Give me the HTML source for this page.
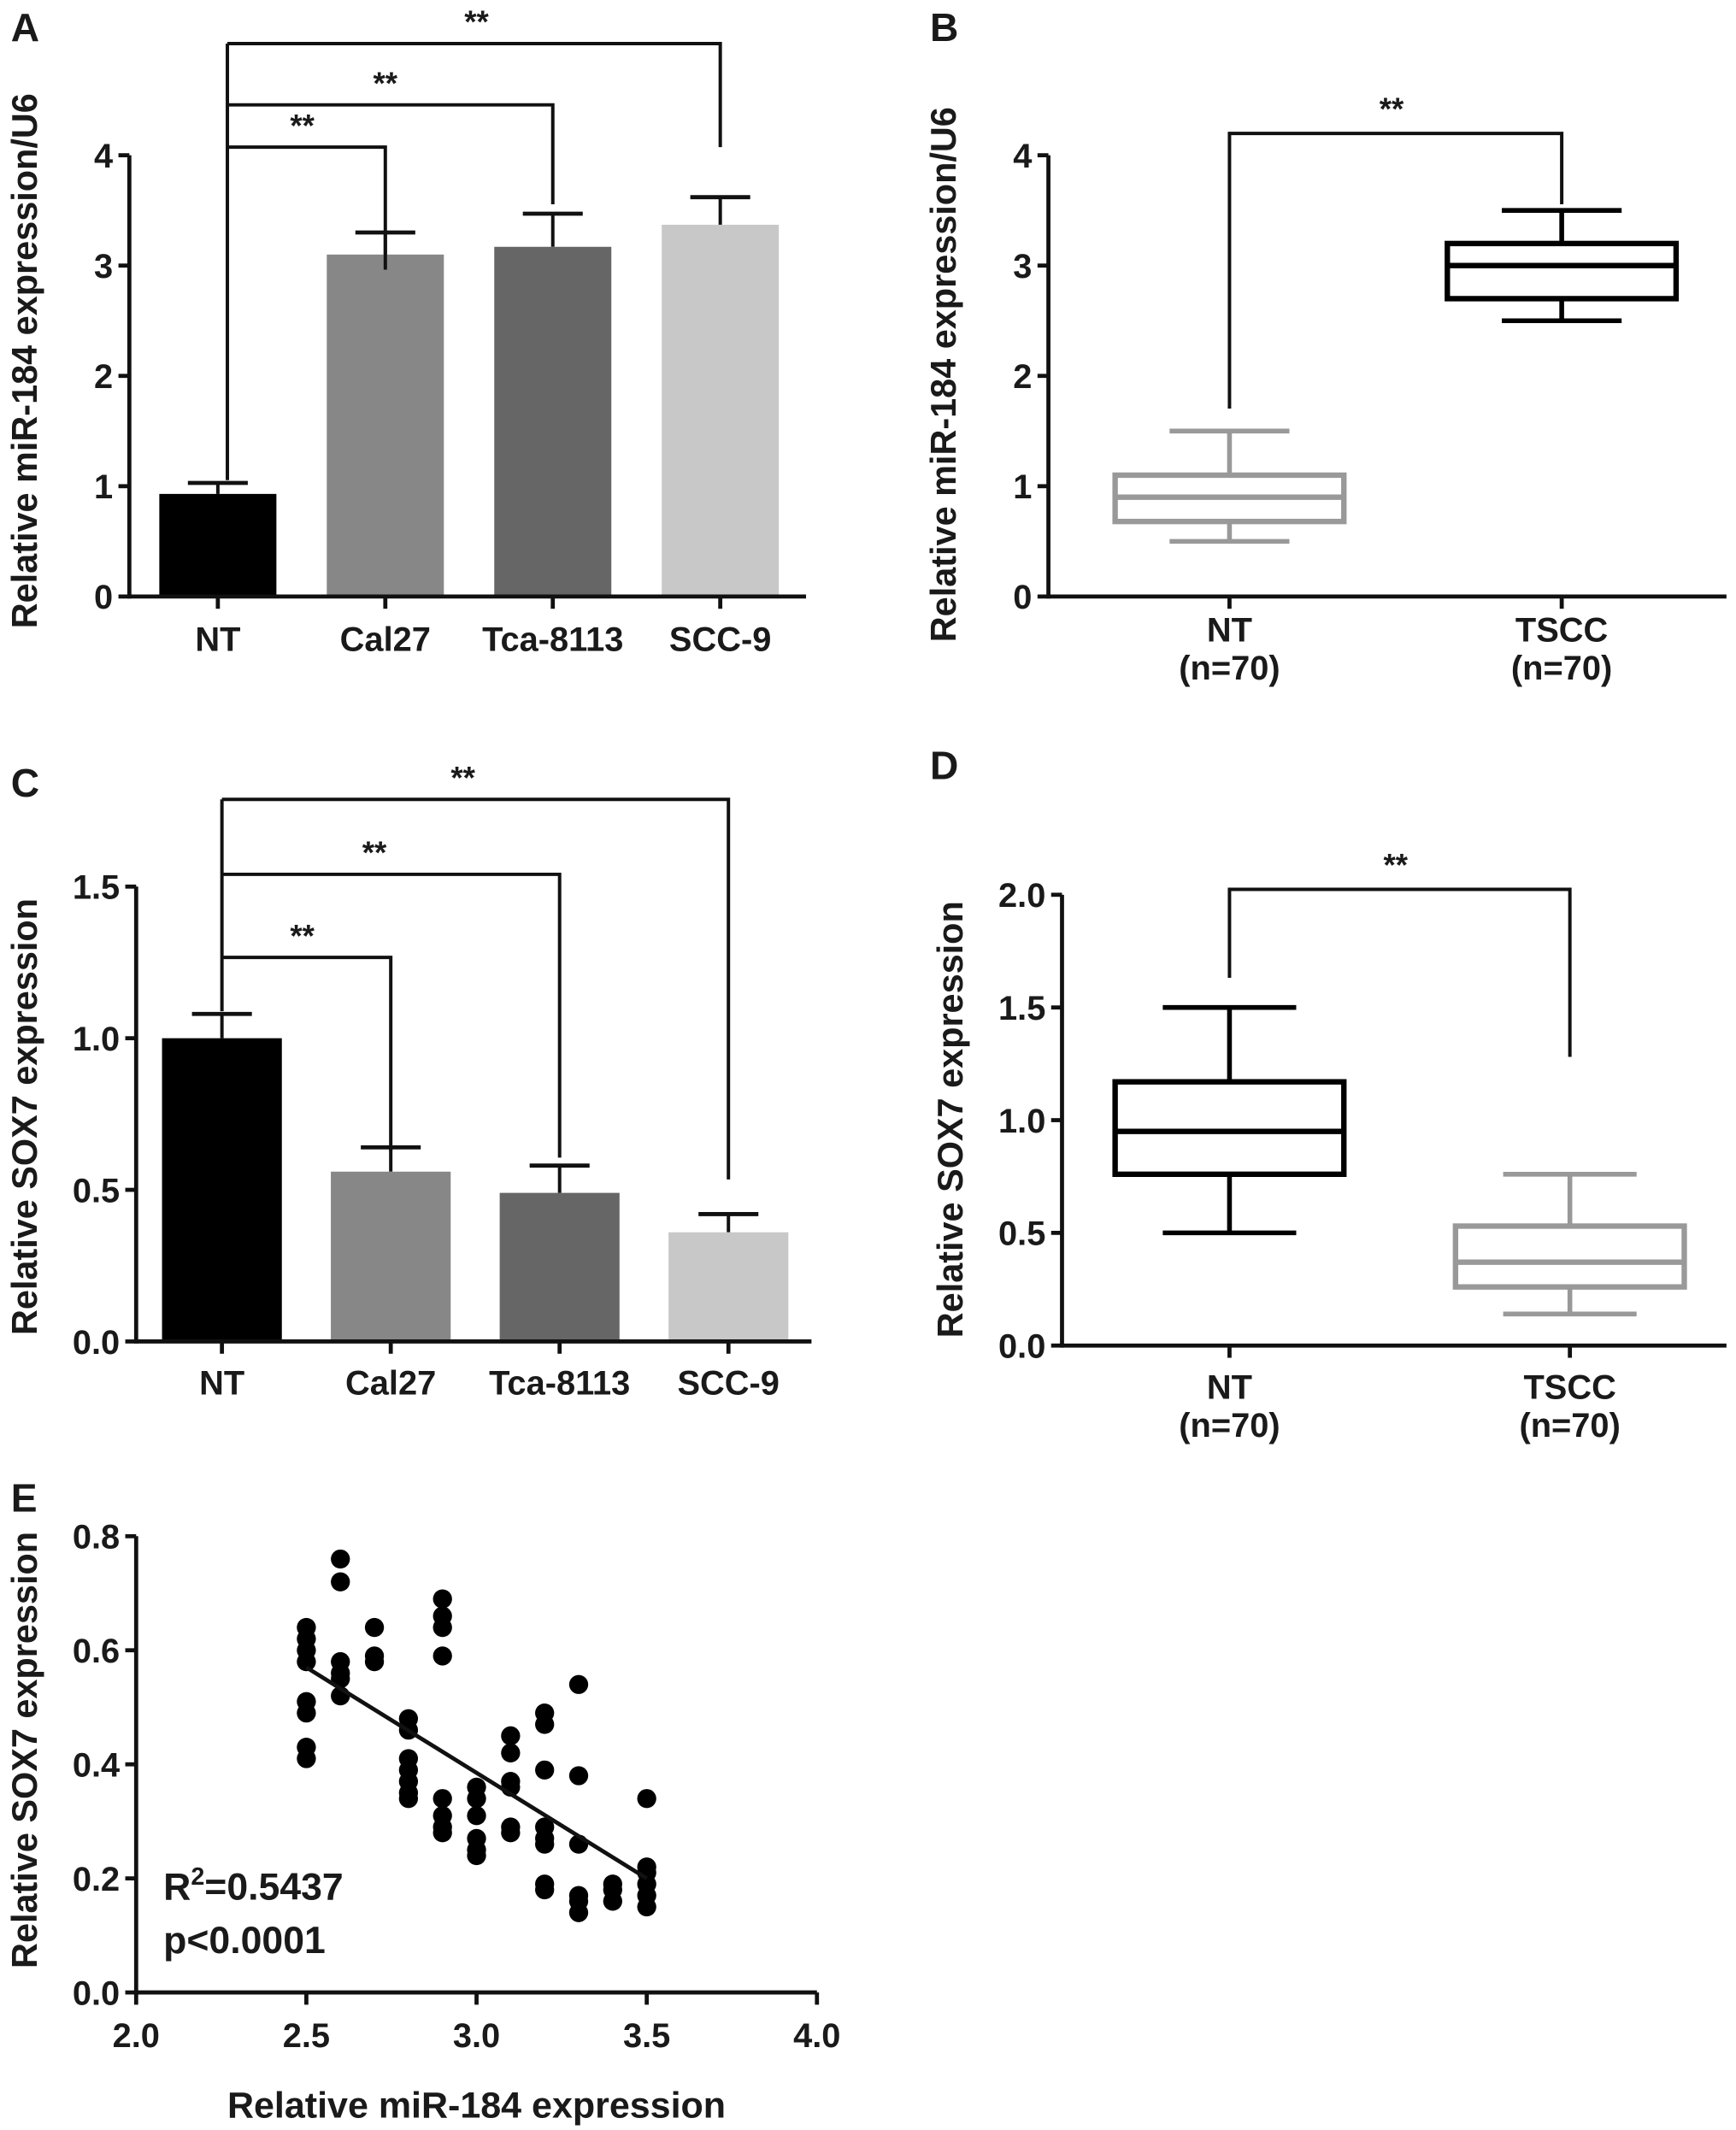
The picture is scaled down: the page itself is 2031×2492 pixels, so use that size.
<!DOCTYPE html>
<html><head><meta charset="utf-8"><style>
html,body{margin:0;padding:0;background:#fff;}
svg{display:block;font-family:"Liberation Sans",Arial,sans-serif;}
text{font-weight:bold;fill:#1a1a1a;}
</style></head><body>
<svg id="fig" width="2031" height="2492" viewBox="0 0 1275 1564" preserveAspectRatio="none" xmlns="http://www.w3.org/2000/svg">
<rect width="1275" height="1564" fill="#fff"/>
</svg>
<script>
// Panel A data
const aCats = ["NT","Cal27","Tca-8113","SCC-9"];
const aVals = [0.93, 3.10, 3.17, 3.37];
const aErr = [1.03, 3.30, 3.47, 3.62];
const aTicks = [0,1,2,3,4];
// Panel B data (min, q1, median, q3, max)
const bCats = ["NT","TSCC"];
const bStats = [[0.5,0.68,0.9,1.1,1.5],[2.5,2.7,3.0,3.2,3.5]];
const bTicks = [0,1,2,3,4];
// Panel C data
const cCats = ["NT","Cal27","Tca-8113","SCC-9"];
const cVals = [1.0, 0.56, 0.49, 0.36];
const cErr = [1.08, 0.64, 0.58, 0.42];
const cTicks = ["0.0","0.5","1.0","1.5"];
// Panel D data
const dCats = ["NT","TSCC"];
const dStats = [[0.5,0.76,0.95,1.17,1.5],[0.14,0.26,0.37,0.53,0.76]];
const dTicks = ["0.0","0.5","1.0","1.5","2.0"];
// Panel E data
const eX = [2.5,2.5,2.5,2.5,2.5,2.5,2.5,2.5, 2.6,2.6,2.6,2.6,2.6,2.6, 2.7,2.7,2.7, 2.8,2.8,2.8,2.8,2.8,2.8,2.8, 2.9,2.9,2.9,2.9,2.9,2.9,2.9,2.9, 3.0,3.0,3.0,3.0,3.0,3.0, 3.1,3.1,3.1,3.1,3.1,3.1, 3.2,3.2,3.2,3.2,3.2,3.2,3.2,3.2, 3.3,3.3,3.3,3.3,3.3,3.3, 3.4,3.4,3.4, 3.5,3.5,3.5,3.5,3.5,3.5];
const eY = [0.64,0.62,0.60,0.58,0.51,0.49,0.43,0.41, 0.76,0.72,0.58,0.56,0.55,0.52, 0.64,0.59,0.58, 0.48,0.46,0.41,0.39,0.37,0.35,0.34, 0.69,0.66,0.64,0.59,0.34,0.31,0.29,0.28, 0.36,0.34,0.31,0.27,0.25,0.24, 0.45,0.42,0.37,0.36,0.29,0.28, 0.49,0.47,0.39,0.29,0.27,0.26,0.19,0.18, 0.54,0.38,0.26,0.17,0.16,0.14, 0.19,0.18,0.16, 0.34,0.22,0.21,0.19,0.17,0.15];
const eFit = [[2.5,0.57],[3.5,0.2]];
const eXTicks = ["2.0","2.5","3.0","3.5","4.0"];
const eYTicks = ["0.0","0.2","0.4","0.6","0.8"];

const svg = document.getElementById('fig');
const NS = "http://www.w3.org/2000/svg";
function mk(tag, attrs, parent){const e=document.createElementNS(NS,tag);for(const k in attrs)e.setAttribute(k,attrs[k]);(parent||svg).appendChild(e);return e;}
function line(x1,y1,x2,y2,g,w,c){return mk('line',{x1,y1,x2,y2,stroke:c||'#111','stroke-width':w||3},g);}
function txt(s,x,y,size,g,anchor,extra){const t=mk('text',Object.assign({x,y,'font-size':size,'text-anchor':anchor||'middle'},extra||{}),g);t.textContent=s;return t;}
function group(name){const g=mk('g',{});return g;}

function yAxis(g,x,yTop,yBot,ticks,yOf,titleS,tx,ty){
  const ax=line(x,yTop,x,yBot+1.5,g);
  
  ticks.forEach(t=>{const y=yOf(parseFloat(t));line(x-8,y,x,y,g);
    const l=txt(String(t),x-12,y+9,25,g,'end');});
  const tt=txt(titleS,tx,ty,26,g,'middle',{transform:`rotate(-90 ${tx} ${ty})`});
  
}
function bracket(g,x1,y1,x2,y2,yTop,starX){
  mk('polyline',{points:`${x1},${y1} ${x1},${yTop} ${x2},${yTop} ${x2},${y2}`,fill:'none',stroke:'#111','stroke-width':2.5},g);
  const s=txt('**',starX,yTop-8,23,g,'middle',{'font-weight':'normal'});
  
}
function panelLabel(s,x,y){const t=txt(s,x,y,29,svg,'start');}

// ---------- Panel A ----------
{const g=group('panel-a-bar-chart');
 const y0=438,y4=114,xL=95,xR=592;const yOf=v=>y0-(y0-y4)*v/4;
 const cx=[160,283,406,529],bw=86,cols=['#000','#878787','#666','#c8c8c8'];
 aCats.forEach((c,i)=>{
  line(cx[i],yOf(aVals[i]),cx[i],yOf(aErr[i]),g,2.5);
  line(cx[i]-22,yOf(aErr[i]),cx[i]+22,yOf(aErr[i]),g,3);
  const r=mk('rect',{x:cx[i]-bw/2,y:yOf(aVals[i]),width:bw,height:y0-yOf(aVals[i]),fill:cols[i]},g);
  
  line(cx[i],y0,cx[i],y0+9,g);
  const l=txt(c,cx[i],478,25,g);
 });
 line(xL,y0,xR,y0,g);
 yAxis(g,xL,y4,y0,aTicks,yOf,'Relative miR-184 expression/U6',27,265);
 const bx=167;
 line(bx,yOf(aErr[0])-2,bx,32,g,2.5);
 bracket(g,bx,32,cx[3],108,32,350);
 bracket(g,bx,77,cx[2],150,77,283);
 bracket(g,bx,108,cx[1],198,108,222);
 panelLabel('A',8,30);
}
function boxes(g,cats,stats,cx,yOf,cols,bw,cw,labY){
 cats.forEach((c,i)=>{const s=stats[i],col=cols[i];
  const bg=mk('g',{},g);
  line(cx[i],yOf(s[0]),cx[i],yOf(s[1]),bg,3.5,col);line(cx[i],yOf(s[3]),cx[i],yOf(s[4]),bg,3.5,col);
  line(cx[i]-cw/2,yOf(s[0]),cx[i]+cw/2,yOf(s[0]),bg,3.5,col);line(cx[i]-cw/2,yOf(s[4]),cx[i]+cw/2,yOf(s[4]),bg,3.5,col);
  mk('rect',{x:cx[i]-bw/2,y:yOf(s[3]),width:bw,height:yOf(s[1])-yOf(s[3]),fill:'none',stroke:col,'stroke-width':4},bg);
  line(cx[i]-bw/2,yOf(s[2]),cx[i]+bw/2,yOf(s[2]),bg,4,col);
  const l=txt(c,cx[i],labY,25,g);
  txt('(n=70)',cx[i],labY+28,25,g);
 });
}
// ---------- Panel B ----------
{const g=group('panel-b-box-plot');
 const y0=438,y4=114,xL=770,xR=1268;const yOf=v=>y0-(y0-y4)*v/4;
 const cx=[903,1147];
 boxes(g,bCats,bStats,cx,yOf,['#999','#000'],168,88,471);
 cx.forEach(x=>line(x,y0,x,y0+9,g));
 line(xL,y0,xR,y0,g);
 yAxis(g,xL,y4,y0,bTicks,yOf,'Relative miR-184 expression/U6',702,275);
 mk('polyline',{points:`${cx[0]},300 ${cx[0]},98 ${cx[1]},98 ${cx[1]},150`,fill:'none',stroke:'#111','stroke-width':2.5},g);
 txt('**',1022,88,23,g,'middle',{'font-weight':'normal'});
 panelLabel('B',683,30);
}
// ---------- Panel C ----------
{const g=group('panel-c-bar-chart');
 const y0=985,yT=651,xL=100,xR=596;const yOf=v=>y0-(y0-yT)*v/1.5;
 const cx=[163,287,411,535],bw=88,cols=['#000','#878787','#666','#c8c8c8'];
 cCats.forEach((c,i)=>{
  line(cx[i],yOf(cVals[i]),cx[i],yOf(cErr[i]),g,2.5);
  line(cx[i]-22,yOf(cErr[i]),cx[i]+22,yOf(cErr[i]),g,3);
  const r=mk('rect',{x:cx[i]-bw/2,y:yOf(cVals[i]),width:bw,height:y0-yOf(cVals[i]),fill:cols[i]},g);
  
  line(cx[i],y0,cx[i],y0+9,g);
  const l=txt(c,cx[i],1024,25,g);
 });
 line(xL,y0,xR,y0,g);
 yAxis(g,xL,yT,y0,cTicks,yOf,'Relative SOX7 expression',27,820);
 const bx=163;
 line(bx,yOf(cErr[0])-2,bx,587,g,2.5);
 bracket(g,bx,587,cx[3],866,587,340);
 bracket(g,bx,642,cx[2],850,642,275);
 bracket(g,bx,703,cx[1],845,703,222);
 panelLabel('C',8,585);
}
// ---------- Panel D ----------
{const g=group('panel-d-box-plot');
 const y0=988,yT=657,xL=780,xR=1268;const yOf=v=>y0-(y0-yT)*v/2;
 const cx=[903,1153];
 boxes(g,dCats,dStats,cx,yOf,['#000','#999'],168,98,1027);
 cx.forEach(x=>line(x,y0,x,y0+9,g));
 line(xL,y0,xR,y0,g);
 yAxis(g,xL,yT,y0,dTicks,yOf,'Relative SOX7 expression',707,822);
 mk('polyline',{points:`${cx[0]},718 ${cx[0]},653 ${cx[1]},653 ${cx[1]},776`,fill:'none',stroke:'#111','stroke-width':2.5},g);
 txt('**',1025,643,23,g,'middle',{'font-weight':'normal'});
 panelLabel('D',683,572);
}
// ---------- Panel E ----------
{const g=group('panel-e-scatter');
 const y0=1463,yT=1128,xL=100,xR=600;
 const yOf=v=>y0-(y0-yT)*v/0.8, xOf=v=>xL+(xR-xL)*(v-2)/2;
 eX.forEach((x,i)=>{const c=mk('circle',{cx:xOf(x),cy:yOf(eY[i]),r:7,fill:'#000'},g);
  });
 const fl=line(xOf(eFit[0][0]),yOf(eFit[0][1]),xOf(eFit[1][0]),yOf(eFit[1][1]),g,3);
 
 line(xL-1.5,y0,xR,y0,g);
 eXTicks.forEach(t=>{const x=xOf(parseFloat(t));line(x,y0,x,y0+9,g);
  const l=txt(t,x,1503,25,g);});
 yAxis(g,xL,yT,y0,eYTicks,yOf,'Relative SOX7 expression',27,1285);
 const xt=txt('Relative miR-184 expression',350,1555,27,g);
 const r2=mk('text',{x:120,y:1395,'font-size':28,'text-anchor':'start','font-weight':'normal'},g);
 
 r2.innerHTML='R<tspan dy="-11" font-size="18">2</tspan><tspan dy="11">=0.5437</tspan>';
 const p=txt('p<0.0001',120,1434,28,g,'start',{'font-weight':'normal'});
 
 panelLabel('E',8,1110);
}
</script>
</body></html>
